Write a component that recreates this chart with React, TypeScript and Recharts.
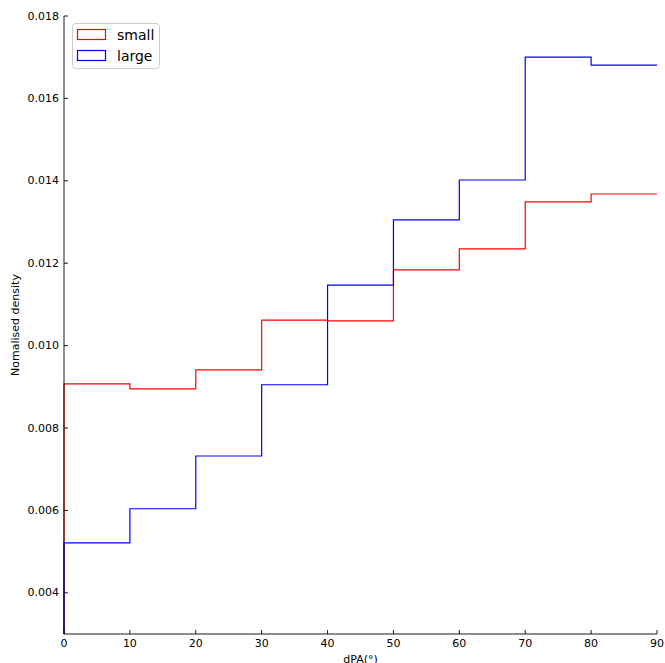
import React from 'react';
import {
  LineChart,
  Line,
  XAxis,
  YAxis,
  Legend,
  Label,
} from 'recharts';

// histogram bin edges (left edges) and normalised densities
const binEdges = [0, 10, 20, 30, 40, 50, 60, 70, 80];
const binEnd = 90;
const smallDensity = [0.00907, 0.00895, 0.00941, 0.01062, 0.0106, 0.01184, 0.01235, 0.01349, 0.01368];
const largeDensity = [0.00521, 0.00604, 0.00732, 0.00905, 0.01147, 0.01305, 0.01402, 0.0170, 0.01681];
const xTicks = [0, 10, 20, 30, 40, 50, 60, 70, 80, 90];
const yTicks = [0.004, 0.006, 0.008, 0.01, 0.012, 0.014, 0.016, 0.018];

const seriesInfo = [
  { key: 'small', label: 'small', color: '#ff0000' },
  { key: 'large', label: 'large', color: '#0000ff' },
];

// step outline like matplotlib histtype='step': rise from 0, then the steps
const rows = [
  { x: binEdges[0], small: 0, large: 0 },
  ...binEdges.map((edge, i) => ({ x: edge, small: smallDensity[i], large: largeDensity[i] })),
  { x: binEnd, small: smallDensity[smallDensity.length - 1], large: largeDensity[largeDensity.length - 1] },
];

const FONT = '"DejaVu Sans", sans-serif';

const YTick = (props: any) => {
  const { x, y, payload } = props;
  return (
    <g>
      <line x1={x} x2={x + 4} y1={y} y2={y} stroke="#000" strokeWidth={0.9} />
      <text x={x - 5} y={y} textAnchor="end" dominantBaseline="central" fontSize={11} fontFamily={FONT} fill="#000">
        {Number(payload.value).toFixed(3)}
      </text>
    </g>
  );
};

const XTick = (props: any) => {
  const { x, y, payload } = props;
  return (
    <g>
      <line x1={x} x2={x} y1={y} y2={y - 4} stroke="#000" strokeWidth={0.9} />
      <text x={x} y={y + 13} textAnchor="middle" fontSize={11} fontFamily={FONT} fill="#000">
        {payload.value}
      </text>
    </g>
  );
};

const LegendBox = () => (
  <svg width={88} height={46} style={{ display: 'block' }}>
    <rect x={0.5} y={0.5} width={87} height={45} rx={3} fill="#fff" fillOpacity={0.8} stroke="#cccccc" />
    {seriesInfo.map((s, i) => (
      <g key={s.key}>
        <rect x={5.5} y={6.5 + i * 21} width={28} height={10} fill="none" stroke={s.color} strokeWidth={1.2} />
        <text x={45} y={12 + i * 21} dominantBaseline="central" fontSize={14} fontFamily={FONT} fill="#000">
          {s.label}
        </text>
      </g>
    ))}
  </svg>
);

export default function App() {
  return (
    <div style={{ position: 'absolute', left: 0, top: 0, background: '#fff' }}>
      <LineChart width={665} height={663} data={rows} margin={{ top: 16, right: 8, bottom: 0, left: 0 }}>
        <XAxis
          xAxisId="bottom"
          dataKey="x"
          type="number"
          domain={[0, 90]}
          ticks={xTicks}
          height={29}
          tickSize={0}
          tickMargin={0}
          tickLine={false}
          tick={<XTick />}
          axisLine={{ stroke: '#000', strokeWidth: 0.9 }}
          interval={0}
        >
          <Label
            content={(p: any) => {
              const vb = p.viewBox;
              return (
                <text x={vb.x + vb.width / 2} y={vb.y + 29} textAnchor="middle" fontSize={11} fontFamily={FONT} fill="#000">
                  dPA(°)
                </text>
              );
            }}
          />
        </XAxis>
        <XAxis
          xAxisId="top"
          orientation="top"
          dataKey="x"
          type="number"
          domain={[0, 90]}
          height={0}
          tick={false}
          tickLine={false}
          axisLine={{ stroke: '#000', strokeWidth: 0.9 }}
        />
        <YAxis
          yAxisId="left"
          domain={[0.003, 0.018]}
          ticks={yTicks}
          width={64}
          allowDataOverflow
          tickSize={0}
          tickMargin={0}
          tickLine={false}
          tick={<YTick />}
          axisLine={{ stroke: '#000', strokeWidth: 0.9 }}
          interval={0}
        >
          <Label
            content={(p: any) => {
              const vb = p.viewBox;
              const cx = vb.x + 15;
              const cy = vb.y + vb.height / 2;
              return (
                <text
                  x={cx}
                  y={cy}
                  transform={`rotate(-90 ${cx} ${cy})`}
                  textAnchor="middle"
                  dominantBaseline="central"
                  fontSize={11}
                  fontFamily={FONT}
                  fill="#000"
                >
                  Nomalised density
                </text>
              );
            }}
          />
        </YAxis>
        <YAxis
          yAxisId="right"
          orientation="right"
          domain={[0.003, 0.018]}
          width={0}
          tick={false}
          tickLine={false}
          axisLine={{ stroke: '#000', strokeWidth: 0.9 }}
        />
        <Legend
          layout="vertical"
          align="center"
          verticalAlign="middle"
          wrapperStyle={{ left: 72, top: 23, width: 88, height: 46 }}
          content={() => <LegendBox />}
        />
        {seriesInfo.map((s) => (
          <Line
            key={s.key}
            xAxisId="bottom"
            yAxisId="left"
            type="stepAfter"
            dataKey={s.key}
            stroke={s.color}
            strokeWidth={1.2}
            dot={false}
            activeDot={false}
            isAnimationActive={false}
          />
        ))}
      </LineChart>
    </div>
  );
}
